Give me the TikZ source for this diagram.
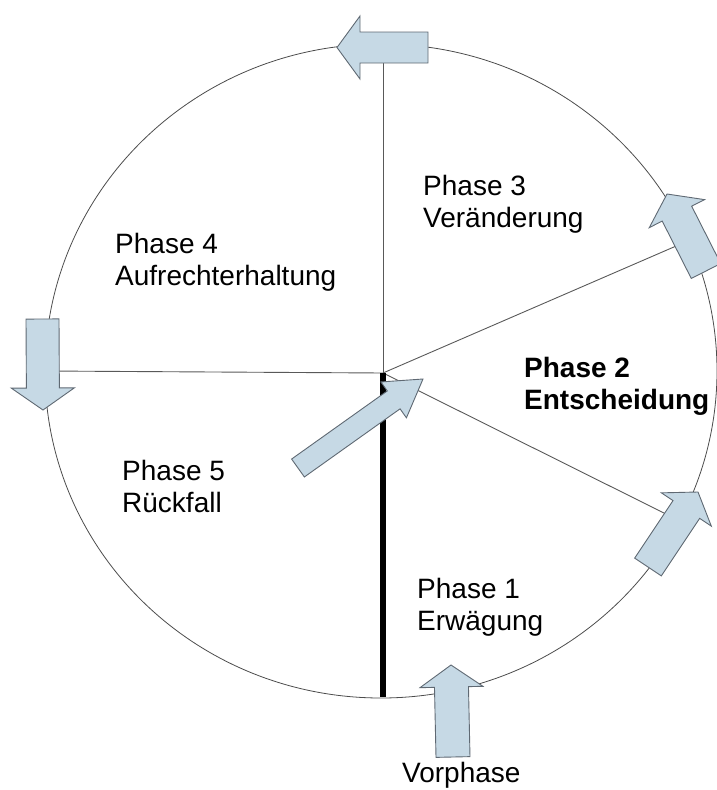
\documentclass[tikz,border=0pt]{standalone}
\usepackage{fontspec}
\setmainfont{Liberation Sans}
\usetikzlibrary{calc}

\definecolor{arrowfill}{RGB}{198,217,229}
\definecolor{arrowline}{RGB}{95,105,115}

\tikzset{
  rim/.style={gray!60!black, line width=0.8pt},
  spoke/.style={gray!70!black, line width=0.9pt},
  blockarrow/.style={fill=arrowfill, draw=arrowline, line width=0.9pt, line join=miter},
  lbl/.style={anchor=north west, inner sep=0pt, align=left, font=\fontsize{28}{32}\selectfont},
}

\begin{document}
\begin{tikzpicture}[x=1pt,y=-1pt]
\useasboundingbox (0,0) rectangle (717,790);
\coordinate (hub) at (383,373);
\coordinate (top) at (383,46);
\coordinate (left) at (45,371);
\coordinate (ur) at (690,240);
\coordinate (lr) at (682,522);
\coordinate (bot) at (383,697);
\draw[rim] (381,371) ellipse [x radius=336, y radius=327];
\foreach \e in {top,left,ur,lr} {
 \draw[spoke] (hub) -- (\e);
}
\draw[black, line width=6pt] (hub) -- (bot);
% block arrows: tail, tip, half shaft, half head, head length
\foreach \tx/\ty/\px/\py/\sw/\hw/\hl in {
 428/47.5/337/47.5/15.5/31.5/23,
 42.5/319/43/410/16.5/31.5/22,
 706/271/667/194/16.5/31/22,
 648/567/698/492/16/30/21,
 453/757/451/665/17/31.5/22,
 298/468/423/379/11/22/36} {
 \coordinate (T) at (\tx,\ty);
 \coordinate (P) at (\px,\py);
 \coordinate (B) at ($(P)!\hl pt!(T)$);
 \draw[blockarrow] ($(T)!\sw pt!90:(P)$) -- ($(B)!\sw pt!90:(P)$) -- ($(B)!\hw pt!90:(P)$) -- (P)
   -- ($(B)!\hw pt!-90:(P)$) -- ($(B)!\sw pt!-90:(P)$) -- ($(T)!\sw pt!-90:(P)$) -- cycle;
}
\node[lbl] (ph3) at (423,175) {Phase 3\\Veränderung};
\node[lbl] (ph4) at (115,233) {Phase 4\\Aufrechterhaltung};
\node[lbl, font=\fontsize{28}{32}\selectfont\bfseries] (ph2) at (524,357) {Phase 2\\Entscheidung};
\node[lbl] (ph5) at (122,460) {Phase 5\\Rückfall};
\node[lbl] (ph1) at (417,578) {Phase 1\\Erwägung};
\node[lbl] (pre) at (402,762) {Vorphase};
\end{tikzpicture}
\end{document}
